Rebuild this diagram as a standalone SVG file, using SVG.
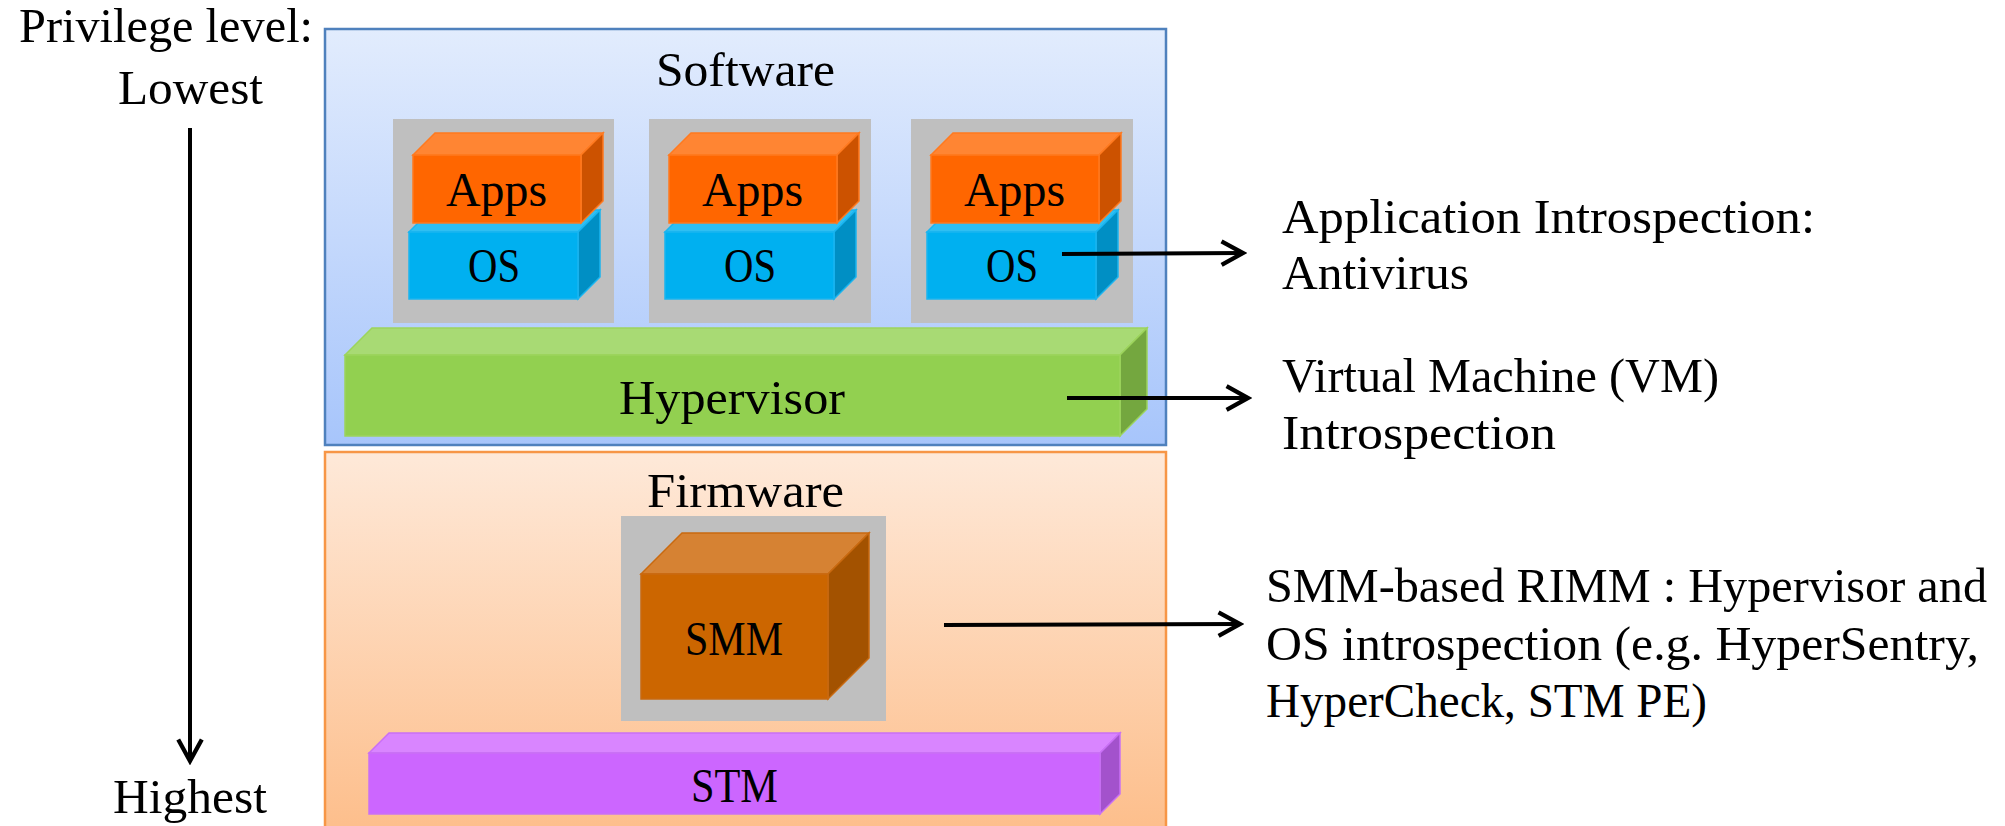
<svg xmlns="http://www.w3.org/2000/svg" width="2005" height="826" viewBox="0 0 2005 826">
<style>
text{font-family:"Liberation Serif","DejaVu Serif",serif;font-size:48px;fill:#000}
.gray{fill:#bfbfbf}
.conn{stroke:#000;stroke-width:4;fill:none}
</style>
<defs>
<linearGradient id="gSoft" x1="0" y1="0" x2="0" y2="1">
<stop offset="0" stop-color="#e2ecfd"/><stop offset="1" stop-color="#a7c5fb"/>
</linearGradient>
<linearGradient id="gFirm" x1="0" y1="0" x2="0" y2="1">
<stop offset="0" stop-color="#fee9d9"/><stop offset="1" stop-color="#fdbd89"/>
</linearGradient>
<marker id="head" markerUnits="userSpaceOnUse" markerWidth="30" markerHeight="30" viewBox="-24 -14 28 28" refX="0" refY="0" orient="auto">
<path d="M-20,-11 L0,0 L-20,11" fill="none" stroke="#000" stroke-width="4" stroke-linejoin="miter"/>
</marker>
</defs>
<rect width="2005" height="826" fill="#fff"/>

<g id="privilege">
<text x="19" y="42" textLength="294" lengthAdjust="spacingAndGlyphs">Privilege level:</text>
<text x="118" y="104" textLength="145" lengthAdjust="spacingAndGlyphs">Lowest</text>
<text x="113" y="813" textLength="154" lengthAdjust="spacingAndGlyphs">Highest</text>
</g>

<g id="software">
<rect x="325" y="29" width="841" height="416" fill="url(#gSoft)" stroke="#4f81bd" stroke-width="2.5"/>
<text x="656" y="86" textLength="179" lengthAdjust="spacingAndGlyphs">Software</text>
</g>

<g id="firmware">
<rect x="325" y="452" width="841" height="390" fill="url(#gFirm)" stroke="#f79646" stroke-width="2.5"/>
<text x="647" y="507" textLength="197" lengthAdjust="spacingAndGlyphs">Firmware</text>
</g>

<g id="vm1">
<rect class="gray" x="393" y="119" width="221" height="204"/>
<g id="os1">
<polygon points="409,232 431,210 600,210 578,232" fill="#2fbff2" stroke="#1ab5f0" stroke-width="1.5"/>
<polygon points="578,232 600,210 600,277 578,299" fill="#008fc4" stroke="#1ab5f0" stroke-width="1.5"/>
<rect x="409" y="232" width="169" height="67" fill="#00b0f0" stroke="#1ab5f0" stroke-width="1.5"/>
<text x="468" y="282" textLength="52" lengthAdjust="spacingAndGlyphs">OS</text>
</g>
<g id="apps1">
<polygon points="413,155 435,133 603,133 581,155" fill="#ff8533" stroke="#ff7a1f" stroke-width="1.5"/>
<polygon points="581,155 603,133 603,201 581,223" fill="#cc5200" stroke="#ff7a1f" stroke-width="1.5"/>
<rect x="413" y="155" width="168" height="68" fill="#ff6600" stroke="#ff7a1f" stroke-width="1.5"/>
<text x="446" y="206" textLength="101" lengthAdjust="spacingAndGlyphs">Apps</text>
</g>
</g>

<g id="vm2">
<rect class="gray" x="649" y="119" width="222" height="204"/>
<g id="os2">
<polygon points="665,232 687,210 856,210 834,232" fill="#2fbff2" stroke="#1ab5f0" stroke-width="1.5"/>
<polygon points="834,232 856,210 856,277 834,299" fill="#008fc4" stroke="#1ab5f0" stroke-width="1.5"/>
<rect x="665" y="232" width="169" height="67" fill="#00b0f0" stroke="#1ab5f0" stroke-width="1.5"/>
<text x="724" y="282" textLength="52" lengthAdjust="spacingAndGlyphs">OS</text>
</g>
<g id="apps2">
<polygon points="669,155 691,133 859,133 837,155" fill="#ff8533" stroke="#ff7a1f" stroke-width="1.5"/>
<polygon points="837,155 859,133 859,201 837,223" fill="#cc5200" stroke="#ff7a1f" stroke-width="1.5"/>
<rect x="669" y="155" width="168" height="68" fill="#ff6600" stroke="#ff7a1f" stroke-width="1.5"/>
<text x="702" y="206" textLength="101" lengthAdjust="spacingAndGlyphs">Apps</text>
</g>
</g>

<g id="vm3">
<rect class="gray" x="911" y="119" width="222" height="204"/>
<g id="os3">
<polygon points="927,232 949,210 1118,210 1096,232" fill="#2fbff2" stroke="#1ab5f0" stroke-width="1.5"/>
<polygon points="1096,232 1118,210 1118,277 1096,299" fill="#008fc4" stroke="#1ab5f0" stroke-width="1.5"/>
<rect x="927" y="232" width="169" height="67" fill="#00b0f0" stroke="#1ab5f0" stroke-width="1.5"/>
<text x="986" y="282" textLength="52" lengthAdjust="spacingAndGlyphs">OS</text>
</g>
<g id="apps3">
<polygon points="931,155 953,133 1121,133 1099,155" fill="#ff8533" stroke="#ff7a1f" stroke-width="1.5"/>
<polygon points="1099,155 1121,133 1121,201 1099,223" fill="#cc5200" stroke="#ff7a1f" stroke-width="1.5"/>
<rect x="931" y="155" width="168" height="68" fill="#ff6600" stroke="#ff7a1f" stroke-width="1.5"/>
<text x="964" y="206" textLength="101" lengthAdjust="spacingAndGlyphs">Apps</text>
</g>
</g>

<g id="hypervisor">
<polygon points="345,355 372,328 1147,328 1120,355" fill="#a8da74" stroke="#9cd45c" stroke-width="1.5"/>
<polygon points="1120,355 1147,328 1147,409 1120,436" fill="#74a73f" stroke="#9cd45c" stroke-width="1.5"/>
<rect x="345" y="355" width="775" height="81" fill="#92d050" stroke="#9cd45c" stroke-width="1.5"/>
<text x="619" y="414" textLength="226" lengthAdjust="spacingAndGlyphs">Hypervisor</text>
</g>

<g id="smm">
<rect class="gray" x="621" y="516" width="265" height="205"/>
<polygon points="641,574 682,533 869,533 828,574" fill="#d68233" stroke="#c96a10" stroke-width="1.5"/>
<polygon points="828,574 869,533 869,658 828,699" fill="#a35200" stroke="#c96a10" stroke-width="1.5"/>
<rect x="641" y="574" width="187" height="125" fill="#cc6600" stroke="#c96a10" stroke-width="1.5"/>
<text x="685" y="655" textLength="98" lengthAdjust="spacingAndGlyphs">SMM</text>
</g>

<g id="stm">
<polygon points="369,753 389,733 1120,733 1100,753" fill="#d985ff" stroke="#c970f5" stroke-width="1.5"/>
<polygon points="1100,753 1120,733 1120,794 1100,814" fill="#a352cc" stroke="#c970f5" stroke-width="1.5"/>
<rect x="369" y="753" width="731" height="61" fill="#cc66ff" stroke="#c970f5" stroke-width="1.5"/>
<text x="691" y="802" textLength="87" lengthAdjust="spacingAndGlyphs">STM</text>
</g>

<g id="labels">
<text x="1282" y="233" textLength="533" lengthAdjust="spacingAndGlyphs">Application Introspection:</text>
<text x="1282" y="289" textLength="187" lengthAdjust="spacingAndGlyphs">Antivirus</text>
<text x="1282" y="392" textLength="437" lengthAdjust="spacingAndGlyphs">Virtual Machine (VM)</text>
<text x="1282" y="449" textLength="274" lengthAdjust="spacingAndGlyphs">Introspection</text>
<text x="1266" y="602" textLength="721" lengthAdjust="spacingAndGlyphs">SMM-based RIMM : Hypervisor and</text>
<text x="1266" y="660" textLength="713" lengthAdjust="spacingAndGlyphs">OS introspection (e.g. HyperSentry,</text>
<text x="1266" y="717" textLength="441" lengthAdjust="spacingAndGlyphs">HyperCheck, STM PE)</text>
</g>

<g id="connectors">
<line class="conn" x1="190" y1="128" x2="190" y2="761" marker-end="url(#head)"/>
<line class="conn" x1="1062" y1="254" x2="1243" y2="253" marker-end="url(#head)"/>
<line class="conn" x1="1067" y1="398" x2="1248" y2="398" marker-end="url(#head)"/>
<line class="conn" x1="944" y1="625" x2="1240" y2="624" marker-end="url(#head)"/>
</g>
</svg>
